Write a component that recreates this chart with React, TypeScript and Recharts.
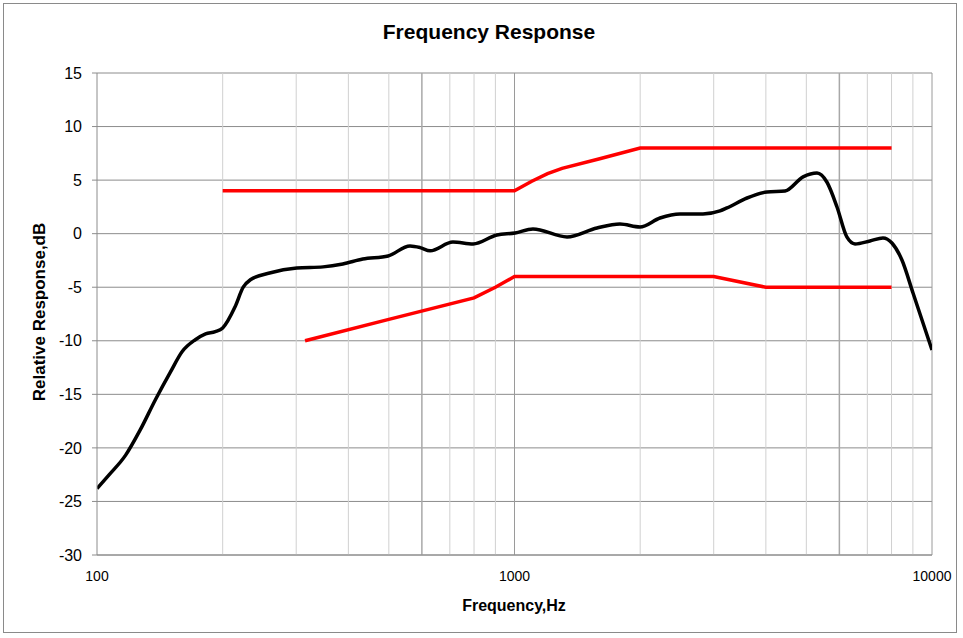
import React from 'react';
import { LineChart, Line, XAxis, YAxis, CartesianGrid, ReferenceLine } from 'recharts';

const responseFreq = [100, 107, 117, 127, 138, 150, 160, 172, 182, 192, 200, 214, 224, 233, 259, 301, 348, 388, 433, 498, 562, 594, 628, 712, 796, 908, 1003, 1107, 1336, 1576, 1789, 1998, 2231, 2491, 2828, 3106, 3228, 3606, 4027, 4447, 4912, 5304, 5604, 5922, 6252, 6541, 7103, 7630, 8017, 8472, 9006, 10000];
const responseDb = [-23.8, -22.5, -20.7, -18.3, -15.5, -12.9, -11.0, -9.9, -9.35, -9.15, -8.8, -6.85, -5.0, -4.3, -3.67, -3.2, -3.1, -2.83, -2.37, -2.08, -1.15, -1.3, -1.6, -0.78, -0.96, -0.12, 0.06, 0.44, -0.31, 0.53, 0.9, 0.62, 1.46, 1.84, 1.84, 2.12, 2.4, 3.33, 3.89, 3.98, 5.3, 5.66, 4.8, 2.49, -0.31, -0.96, -0.68, -0.4, -0.87, -2.46, -5.54, -10.86];

const upperFreq = [200, 1000, 1100, 1200, 1300, 1600, 2000, 8000];
const upperDb = [4, 4, 4.9, 5.6, 6.1, 7, 8, 8];

const lowerFreq = [315, 500, 800, 900, 1000, 3000, 4000, 8000];
const lowerDb = [-10, -8, -6, -5, -4, -4, -5, -5];

const xTicks = [100, 1000, 10000];
const yTicks = [-30, -25, -20, -15, -10, -5, 0, 5, 10, 15];
const minorFreqs = [200, 300, 400, 500, 700, 800, 900, 2000, 3000, 4000, 5000, 7000, 8000, 9000];
const midFreqs = [600, 6000];
const majorFreqs = [1000, 10000];

const responseData = responseFreq.map((f, i) => ({ f, v: responseDb[i] }));
const upperData = upperFreq.map((f, i) => ({ f, v: upperDb[i] }));
const lowerData = lowerFreq.map((f, i) => ({ f, v: lowerDb[i] }));

export default function App() {
  return (
    <div style={{ position: 'absolute', left: 0, top: 0, width: 963, height: 638, background: '#fff', fontFamily: '"Liberation Sans", Arial, sans-serif' }}>
      <div style={{ position: 'absolute', left: 3, top: 3, width: 954, height: 630, border: '1px solid #8a8a8a', boxSizing: 'border-box' }} />
      <LineChart width={963} height={638} margin={{ top: 73, right: 31, left: 37, bottom: 53 }}>
        <CartesianGrid vertical={false} stroke="#8c8c8c" strokeWidth={1} />
        {minorFreqs.map((f) => (
          <ReferenceLine key={f} x={f} stroke="#d0d0d0" strokeWidth={1} />
        ))}
        {midFreqs.map((f) => (
          <ReferenceLine key={f} x={f} stroke="#a8a8a8" strokeWidth={1.5} />
        ))}
        {majorFreqs.map((f) => (
          <ReferenceLine key={f} x={f} stroke="#9a9a9a" strokeWidth={1} />
        ))}
        <XAxis
          dataKey="f"
          type="number"
          scale="log"
          domain={[100, 10000]}
          ticks={xTicks}
          allowDataOverflow
          axisLine={{ stroke: '#8c8c8c' }}
          tickLine={false}
          tickMargin={10}
          height={30}
          tick={{ fill: '#000', fontSize: 14, fontFamily: '"Liberation Sans Narrow", "Liberation Sans", Arial' }}
        />
        <YAxis
          type="number"
          domain={[-30, 15]}
          ticks={yTicks}
          interval={0}
          width={60}
          axisLine={{ stroke: '#8c8c8c' }}
          tickLine={{ stroke: '#8c8c8c' }}
          tickSize={5}
          tickMargin={10}
          tick={{ fill: '#000', fontSize: 16 }}
        />
        <Line data={upperData} dataKey="v" type="linear" stroke="#ff0000" strokeWidth={3.5} dot={false} isAnimationActive={false} />
        <Line data={lowerData} dataKey="v" type="linear" stroke="#ff0000" strokeWidth={3.5} dot={false} isAnimationActive={false} />
        <Line data={responseData} dataKey="v" type="monotone" stroke="#000" strokeWidth={3.5} dot={false} isAnimationActive={false} />
      </LineChart>
      <div style={{ position: 'absolute', left: 0, width: 978, top: 20, textAlign: 'center', fontWeight: 'bold', fontSize: 21, color: '#000', fontFamily: '"Liberation Sans Narrow", "Liberation Sans", Arial' }}>
        Frequency Response
      </div>
      <div style={{ position: 'absolute', left: 0, width: 1028, top: 597, textAlign: 'center', fontWeight: 'bold', fontSize: 16, color: '#000', fontFamily: '"Liberation Sans Narrow", "Liberation Sans", Arial' }}>
        Frequency,Hz
      </div>
      <div style={{ position: 'absolute', left: 40, top: 313, width: 0, height: 0 }}>
        <div style={{ position: 'absolute', left: -150, top: -11, width: 300, textAlign: 'center', transform: 'rotate(-90deg)', fontWeight: 'bold', fontSize: 17, color: '#000', whiteSpace: 'nowrap' }}>
          Relative Response,dB
        </div>
      </div>
    </div>
  );
}
